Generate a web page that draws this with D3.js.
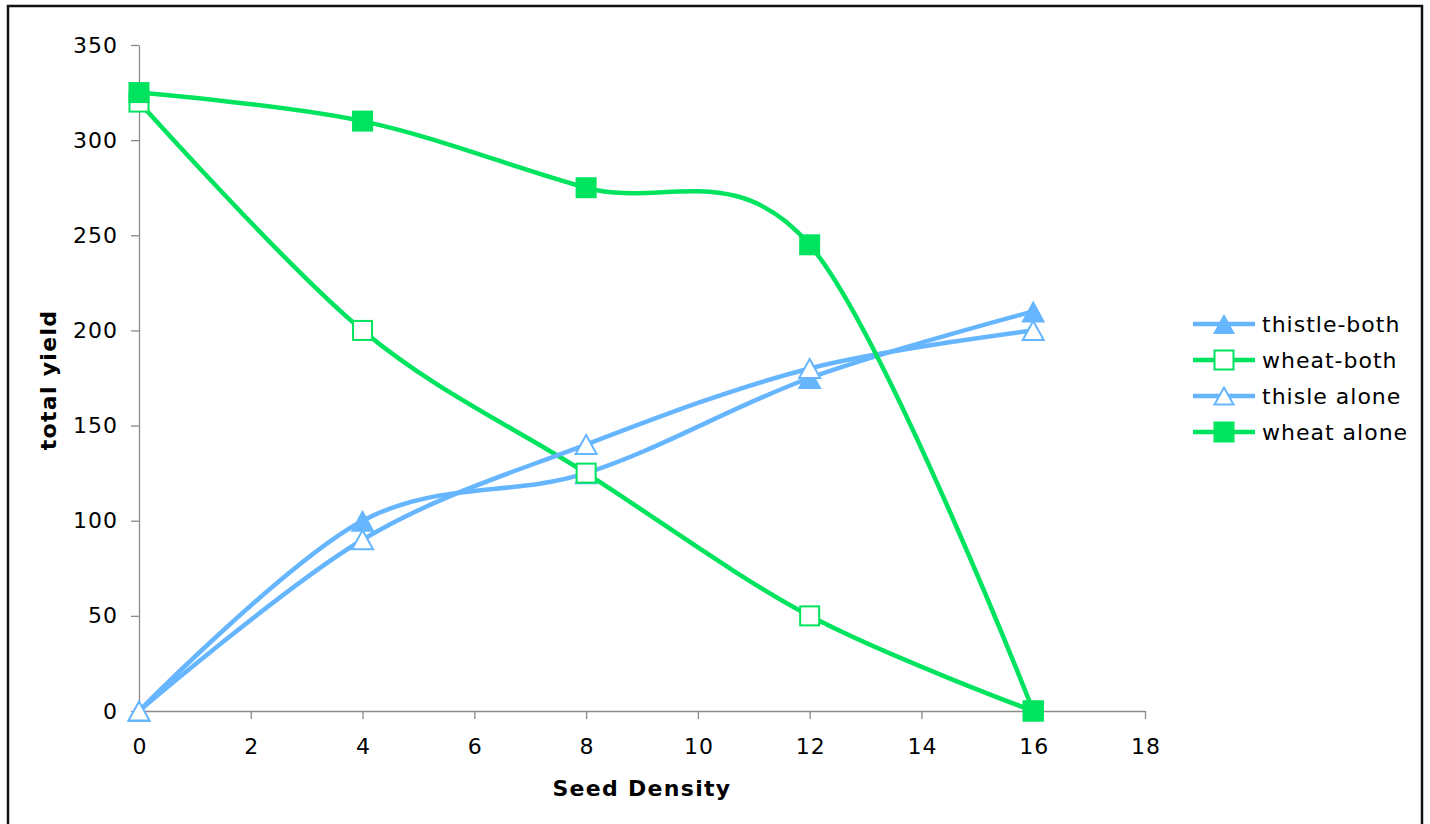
<!DOCTYPE html>
<html><head><meta charset="utf-8">
<script src="https://cdn.jsdelivr.net/npm/d3@7"></script>
<style>
html,body{margin:0;padding:0;background:#fff;}
svg{display:block;}
text{font-family:"DejaVu Sans",Verdana,sans-serif;}
</style></head>
<body>
<svg id="chart" width="1430" height="824"></svg>
<script>
const seedDensity = [0, 4, 8, 12, 16];
const thistleBoth = [0, 100, 125, 175, 210];
const wheatBoth = [320, 200, 125, 50, 0];
const thisleAlone = [0, 90, 140, 180, 200];
const wheatAlone = [325, 310, 275, 245, 0];
const seriesNames = ["thistle-both", "wheat-both", "thisle alone", "wheat alone"];
const xTicks = [0, 2, 4, 6, 8, 10, 12, 14, 16, 18];
const yTicks = [0, 50, 100, 150, 200, 250, 300, 350];

const BLUE = "#66b6ff", GREEN = "#00e35e";
const series = [
  {name: seriesNames[0], values: thistleBoth, color: BLUE, shape: "tri", filled: true},
  {name: seriesNames[1], values: wheatBoth, color: GREEN, shape: "sq", filled: false},
  {name: seriesNames[2], values: thisleAlone, color: BLUE, shape: "tri", filled: false},
  {name: seriesNames[3], values: wheatAlone, color: GREEN, shape: "sq", filled: true}
];

const FS = 22, LS = "1px";
const svg = d3.select("#chart");
// outer frame
svg.append("rect").attr("x", 8).attr("y", 6).attr("width", 1414).attr("height", 840)
  .attr("fill", "none").attr("stroke", "#111").attr("stroke-width", 2.5);

const x = d3.scaleLinear().domain([0, 18]).range([139, 1145]);
const y = d3.scaleLinear().domain([0, 350]).range([711, 45]);

const axisColor = "#8a8a8a";
const gx = svg.append("g").attr("transform", "translate(0,711)")
  .call(d3.axisBottom(x).tickValues(xTicks).tickSize(8).tickSizeOuter(0).tickPadding(19).tickFormat(d3.format("d")));
const gy = svg.append("g").attr("transform", "translate(139,0)")
  .call(d3.axisLeft(y).tickValues(yTicks).tickSize(8).tickSizeOuter(0).tickPadding(14).tickFormat(d3.format("d")));
[gx, gy].forEach(g => {
  g.select(".domain").attr("stroke", axisColor).attr("stroke-width", 1.3);
  g.selectAll(".tick line").attr("stroke", axisColor).attr("stroke-width", 1.3);
  g.selectAll(".tick text").attr("font-family", "DejaVu Sans, Verdana, sans-serif")
    .attr("font-size", FS).attr("letter-spacing", LS).attr("fill", "#000");
});
gy.selectAll(".tick text").attr("dx", "1px");
gx.selectAll(".tick text").attr("dx", "0.5px");

// axis titles
svg.append("text").attr("x", 642).attr("y", 796).attr("text-anchor", "middle")
  .attr("font-size", FS).attr("letter-spacing", "1.3px").attr("font-weight", "bold").text("Seed Density");
svg.append("text").attr("transform", "translate(56,380) rotate(-90)").attr("text-anchor", "middle")
  .attr("font-size", FS).attr("letter-spacing", "1.3px").attr("font-weight", "bold").text("total yield");

const line = d3.line().curve(d3.curveCardinal.tension(0))
  .x((d, i) => x(seedDensity[i])).y(d => y(d));

function marker(g, s, cx, cy, big) {
  if (s.shape === "sq") {
    const a = 21;
    if (s.filled) {
      g.append("rect").attr("x", cx - a / 2).attr("y", cy - a / 2).attr("width", a).attr("height", a)
        .attr("fill", s.color);
    } else {
      g.append("rect").attr("x", cx - a / 2 + 1).attr("y", cy - a / 2 + 1).attr("width", a - 2).attr("height", a - 2)
        .attr("fill", "#fff").attr("stroke", s.color).attr("stroke-width", 2);
    }
  } else {
    const w = big ? 24 : 22, h = big ? 22 : 20;
    const pts = [[cx, cy - h / 2], [cx + w / 2, cy + h / 2], [cx - w / 2, cy + h / 2]];
    if (s.filled) {
      g.append("polygon").attr("points", pts.map(p => p.join(",")).join(" ")).attr("fill", s.color);
    } else {
      const w2 = w - 3, h2 = h - 3;
      const p2 = [[cx, cy - h2 / 2], [cx + w2 / 2, cy + h2 / 2], [cx - w2 / 2, cy + h2 / 2]];
      g.append("polygon").attr("points", p2.map(p => p.join(",")).join(" "))
        .attr("fill", "#fff").attr("stroke", s.color).attr("stroke-width", 2);
    }
  }
}

series.forEach(s => {
  const g = svg.append("g");
  g.append("path").attr("d", line(s.values)).attr("fill", "none")
    .attr("stroke", s.color).attr("stroke-width", 4.5).attr("stroke-linejoin", "round");
  s.values.forEach((v, i) => marker(g, s, x(seedDensity[i]), y(v), true));
});

// legend
const leg = svg.append("g");
series.forEach((s, i) => {
  const cy = 324 + i * 36;
  const g = leg.append("g");
  g.append("line").attr("x1", 1193).attr("x2", 1255).attr("y1", cy).attr("y2", cy)
    .attr("stroke", s.color).attr("stroke-width", 4.5);
  marker(g, s, 1224, cy, false);
  g.append("text").attr("x", 1262).attr("y", cy).attr("dy", "0.35em")
    .attr("font-size", FS).attr("letter-spacing", LS).attr("fill", "#000").text(s.name);
});
</script>
</body></html>
